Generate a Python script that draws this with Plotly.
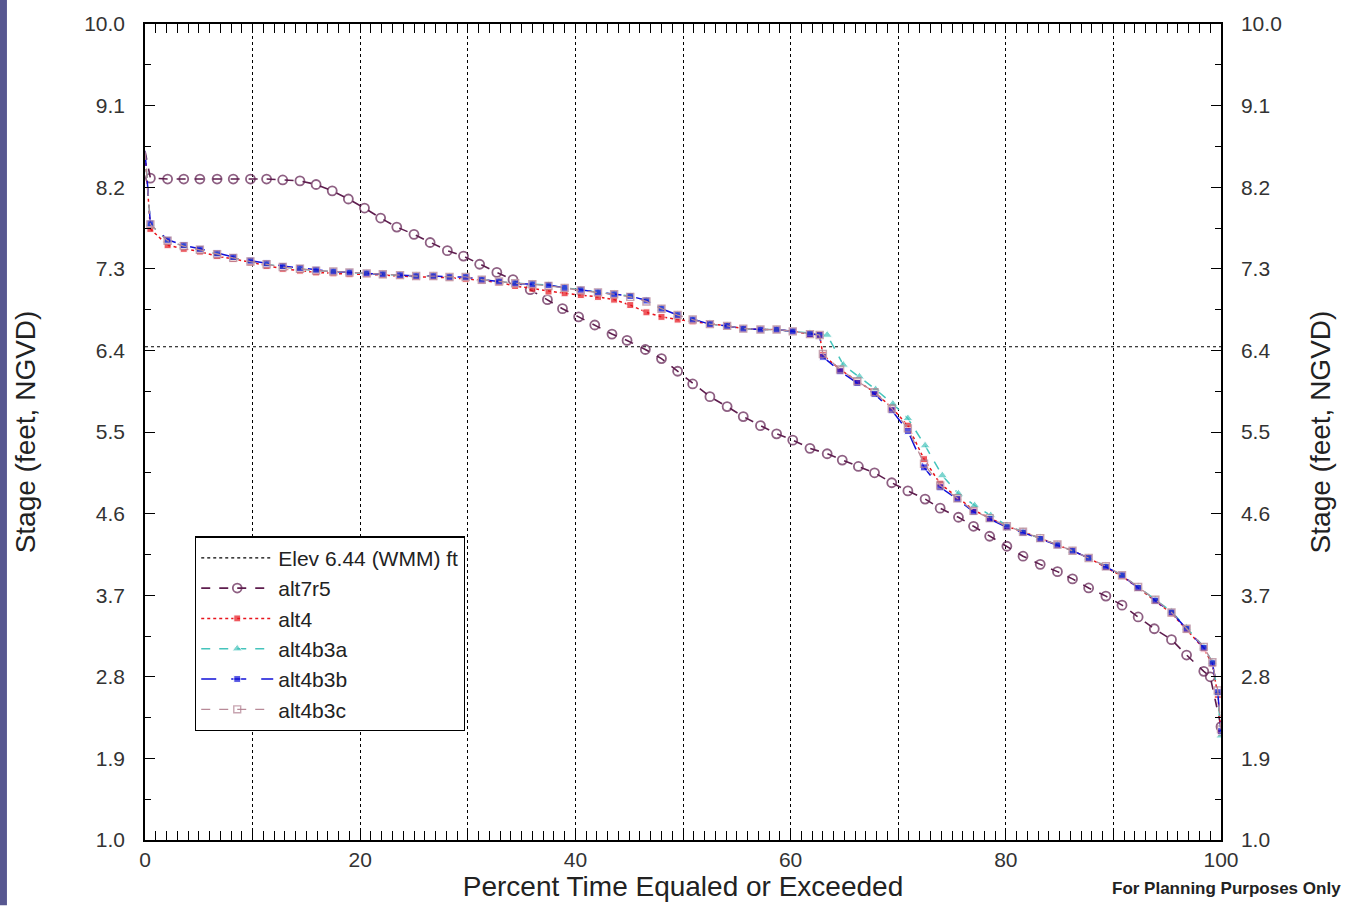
import plotly.graph_objects as go

# ---------------- data ----------------
X_MAIN = [0, 0.5, 2.1, 3.6, 5.1, 6.7, 8.2, 9.8, 11.3, 12.8,
          14.4, 15.9, 17.5, 19.0, 20.6, 22.1, 23.7, 25.2, 26.8, 28.3,
          29.8, 31.3, 32.9, 34.4, 36.0, 37.5, 39.0, 40.5, 42.1, 43.6,
          45.1, 46.6, 48.0, 49.5, 50.9, 52.5, 54.1, 55.6, 57.2, 58.7,
          60.2, 61.8, 62.7, 63.0, 64.6, 66.2, 67.8, 69.4, 70.9, 72.4,
          73.9, 75.5, 77.0, 78.5, 80.1, 81.6, 83.2, 84.8, 86.2, 87.7,
          89.3, 90.8, 92.3, 93.9, 95.4, 96.8, 98.4, 99.2, 99.7, 100]

ALT4 = [8.6, 7.74, 7.56, 7.52, 7.49, 7.44, 7.41, 7.37, 7.33, 7.30,
        7.28, 7.26, 7.25, 7.24, 7.24, 7.23, 7.22, 7.21, 7.21, 7.20,
        7.19, 7.17, 7.15, 7.11, 7.08, 7.05, 7.03, 7.01, 6.99, 6.96,
        6.90, 6.82, 6.77, 6.74, 6.72, 6.69, 6.67, 6.64, 6.63, 6.63,
        6.61, 6.58, 6.57, 6.35, 6.19, 6.06, 5.94, 5.77, 5.57, 5.20,
        4.93, 4.78, 4.64, 4.55, 4.46, 4.40, 4.33, 4.26, 4.19, 4.11,
        4.01, 3.91, 3.78, 3.64, 3.50, 3.32, 3.11, 2.94, 2.60, 2.18]

ALT4B3B = [8.6, 7.80, 7.62, 7.56, 7.52, 7.47, 7.43, 7.39, 7.36, 7.33,
           7.31, 7.29, 7.27, 7.26, 7.25, 7.24, 7.23, 7.22, 7.22, 7.21,
           7.21, 7.18, 7.16, 7.14, 7.13, 7.12, 7.09, 7.07, 7.04, 7.02,
           7.00, 6.95, 6.86, 6.79, 6.74, 6.69, 6.67, 6.64, 6.63, 6.63,
           6.61, 6.58, 6.57, 6.33, 6.17, 6.04, 5.92, 5.74, 5.51, 5.11,
           4.89, 4.76, 4.62, 4.54, 4.45, 4.39, 4.32, 4.25, 4.19, 4.11,
           4.01, 3.92, 3.78, 3.64, 3.51, 3.33, 3.12, 2.95, 2.63, 2.20]

ALT4B3C = [8.6, 7.79, 7.61, 7.55, 7.51, 7.46, 7.42, 7.38, 7.35, 7.32,
           7.30, 7.28, 7.27, 7.26, 7.25, 7.24, 7.23, 7.22, 7.22, 7.21,
           7.21, 7.18, 7.16, 7.14, 7.13, 7.11, 7.09, 7.06, 7.04, 7.02,
           6.99, 6.94, 6.86, 6.79, 6.74, 6.69, 6.67, 6.64, 6.63, 6.63,
           6.61, 6.58, 6.57, 6.36, 6.19, 6.06, 5.94, 5.76, 5.54, 5.15,
           4.91, 4.77, 4.63, 4.55, 4.46, 4.40, 4.33, 4.26, 4.19, 4.11,
           4.02, 3.92, 3.79, 3.65, 3.51, 3.33, 3.13, 2.96, 2.65, 2.22]

X_B3A = [0, 0.5, 2.1, 3.6, 5.1, 6.7, 8.2, 9.8, 11.3, 12.8,
         14.4, 15.9, 17.5, 19.0, 20.6, 22.1, 23.7, 25.2, 26.8, 28.3,
         29.8, 31.3, 32.9, 34.4, 36.0, 37.5, 39.0, 40.5, 42.1, 43.6,
         45.1, 46.6, 48.0, 49.5, 50.9, 52.5, 54.1, 55.6, 57.2, 58.7,
         60.2, 61.8, 63.4, 64.9, 66.4, 67.9, 69.5, 70.9, 72.5, 74.1,
         75.6, 77.1, 78.6, 80.1, 81.6, 83.2, 84.8, 86.2, 87.7, 89.3,
         90.8, 92.3, 93.9, 95.4, 96.8, 98.4, 99.2, 99.7, 100]

ALT4B3A = [8.6, 7.79, 7.61, 7.55, 7.51, 7.46, 7.42, 7.38, 7.35, 7.32,
           7.30, 7.28, 7.27, 7.26, 7.25, 7.24, 7.23, 7.22, 7.22, 7.21,
           7.21, 7.18, 7.16, 7.14, 7.13, 7.12, 7.09, 7.07, 7.04, 7.02,
           7.00, 6.95, 6.86, 6.79, 6.74, 6.69, 6.67, 6.64, 6.63, 6.63,
           6.61, 6.59, 6.57, 6.24, 6.11, 5.97, 5.81, 5.65, 5.35, 5.02,
           4.82, 4.69, 4.58, 4.47, 4.40, 4.33, 4.26, 4.19, 4.11, 4.02,
           3.92, 3.79, 3.65, 3.52, 3.34, 3.13, 2.96, 2.62, 2.15]

X_ALT7R5 = [0, 0.5, 2.1, 3.6, 5.1, 6.7, 8.2, 9.8, 11.3, 12.8,
            14.4, 15.9, 17.4, 18.9, 20.4, 21.9, 23.4, 25.0, 26.5, 28.1,
            29.6, 31.1, 32.7, 34.2, 35.8, 37.4, 38.8, 40.3, 41.8, 43.4,
            44.8, 46.5, 48.0, 49.5, 50.9, 52.5, 54.1, 55.6, 57.2, 58.7,
            60.2, 61.8, 63.4, 64.8, 66.3, 67.8, 69.4, 70.9, 72.5, 73.9,
            75.6, 77.0, 78.5, 80.1, 81.6, 83.2, 84.8, 86.2, 87.7, 89.3,
            90.8, 92.3, 93.8, 95.4, 96.8, 98.4, 99.0, 100]

ALT7R5 = [8.6, 8.30, 8.29, 8.29, 8.29, 8.29, 8.29, 8.29, 8.29, 8.28,
          8.27, 8.23, 8.16, 8.07, 7.97, 7.86, 7.76, 7.68, 7.59, 7.50,
          7.44, 7.35, 7.26, 7.18, 7.07, 6.96, 6.86, 6.77, 6.68, 6.58,
          6.51, 6.41, 6.31, 6.17, 6.03, 5.89, 5.78, 5.67, 5.57, 5.48,
          5.41, 5.32, 5.26, 5.19, 5.12, 5.05, 4.94, 4.85, 4.76, 4.66,
          4.56, 4.46, 4.35, 4.24, 4.13, 4.04, 3.96, 3.88, 3.78, 3.69,
          3.59, 3.46, 3.33, 3.21, 3.04, 2.86, 2.80, 2.25]

ELEV_X = [0, 100]
ELEV_Y = [6.44, 6.44]

Y_TICKS = [1.0, 1.9, 2.8, 3.7, 4.6, 5.5, 6.4, 7.3, 8.2, 9.1, 10.0]
Y_LABELS = ["1.0", "1.9", "2.8", "3.7", "4.6", "5.5", "6.4", "7.3", "8.2", "9.1", "10.0"]
X_TICKS = [0, 10, 20, 30, 40, 50, 60, 70, 80, 90, 100]
X_LABELS = ["0", "", "20", "", "40", "", "60", "", "80", "", "100"]

# ---------------- figure ----------------
FONT = "Liberation Sans, Arial, sans-serif"


def sizes(n, s):
    # no marker on the very first (x=0) point, as in the reference
    return [0] + [s] * (n - 1)


fig = go.Figure()

fig.add_trace(go.Scatter(
    x=ELEV_X, y=ELEV_Y, mode="lines", name="Elev 6.44 (WMM) ft",
    line=dict(color="black", width=1.2, dash="dot")))

fig.add_trace(go.Scatter(
    x=X_ALT7R5, y=ALT7R5, mode="lines+markers", name="alt7r5",
    line=dict(color="#5e1d4e", width=1.6, dash="dash"),
    marker=dict(symbol="circle-open", size=sizes(len(ALT7R5), 9),
                color="#5e1d4e", line=dict(width=1.8))))

fig.add_trace(go.Scatter(
    x=X_MAIN, y=ALT4, mode="lines+markers", name="alt4",
    line=dict(color="#e8141c", width=1.5, dash="dot"),
    marker=dict(symbol="square", size=sizes(len(ALT4), 7), color="#e8141c")))

fig.add_trace(go.Scatter(
    x=X_B3A, y=ALT4B3A, mode="lines+markers", name="alt4b3a",
    line=dict(color="#45c4bc", width=1.5, dash="dash"),
    marker=dict(symbol="triangle-up", size=sizes(len(ALT4B3A), 9), color="#45c4bc")))

fig.add_trace(go.Scatter(
    x=X_MAIN, y=ALT4B3B, mode="lines+markers", name="alt4b3b",
    line=dict(color="#1010d8", width=1.5, dash="longdash"),
    marker=dict(symbol="square", size=sizes(len(ALT4B3B), 7), color="#1010d8")))

fig.add_trace(go.Scatter(
    x=X_MAIN, y=ALT4B3C, mode="lines+markers", name="alt4b3c",
    line=dict(color="#b88a98", width=1.3, dash="dash"),
    marker=dict(symbol="square-open", size=sizes(len(ALT4B3C), 7),
                color="#b07f90", line=dict(width=1.4))))

# invisible trace to carry the right-hand axis
fig.add_trace(go.Scatter(
    x=ELEV_X, y=ELEV_Y, yaxis="y2", mode="lines",
    line=dict(width=0, color="rgba(0,0,0,0)"), showlegend=False, hoverinfo="skip"))

tickfont = dict(family=FONT, size=21, color="#333333")
titlefont = dict(family=FONT, size=28, color="#222222")

fig.update_layout(
    width=1345, height=907,
    margin=dict(l=145, r=124, t=20, b=65),
    paper_bgcolor="white", plot_bgcolor="white",
    font=dict(family=FONT),
    xaxis=dict(
        range=[0, 100], tickmode="array", tickvals=X_TICKS, ticktext=X_LABELS,
        ticks="inside", ticklen=9, tickwidth=1, tickcolor="black",
        showline=True, linecolor="black", linewidth=1.5, mirror="allticks",
        showgrid=True, gridcolor="black", gridwidth=1, griddash="3px,3px",
        zeroline=False, tickfont=tickfont,
        minor=dict(dtick=1, tick0=0, ticks="inside", ticklen=6,
                   tickcolor="black", showgrid=False),
        title=dict(text="Percent Time Equaled or Exceeded", font=titlefont, standoff=4),
    ),
    yaxis=dict(
        range=[1, 10], tickmode="array", tickvals=Y_TICKS, ticktext=Y_LABELS,
        ticks="inside", ticklen=10, tickwidth=1, tickcolor="black",
        showline=True, linecolor="black", linewidth=1.5, mirror=True,
        showgrid=False, zeroline=False, tickfont=tickfont, ticklabelstandoff=14,
        minor=dict(tick0=1, dtick=0.45, ticks="inside", ticklen=6,
                   tickcolor="black", showgrid=False),
        title=dict(text="Stage (feet, NGVD)", font=titlefont, standoff=40),
    ),
    yaxis2=dict(
        range=[1, 10], overlaying="y", side="right", tickmode="array",
        tickvals=Y_TICKS, ticktext=Y_LABELS,
        ticks="inside", ticklen=10, tickwidth=1, tickcolor="black",
        showline=True, linecolor="black", linewidth=1.5,
        showgrid=False, zeroline=False, tickfont=tickfont, ticklabelstandoff=14,
        minor=dict(tick0=1, dtick=0.45, ticks="inside", ticklen=6,
                   tickcolor="black", showgrid=False),
        title=dict(text="Stage (feet, NGVD)", font=titlefont, standoff=30),
    ),
    legend=dict(
        x=0.0465, y=0.372, xanchor="left", yanchor="top",
        bgcolor="white", bordercolor="black", borderwidth=1.2,
        font=dict(family=FONT, size=21, color="#222222"),
        itemwidth=72, tracegroupgap=0, entrywidth=205,
    ),
    showlegend=True,
)

# slide-background strip at the far left edge
fig.add_shape(type="rect", xref="paper", yref="paper",
              x0=-0.1348, x1=-0.1283, y0=-0.08, y1=1.03,
              fillcolor="#575790", line=dict(width=0), layer="below")

fig.add_annotation(
    text="<b>For Planning Purposes Only</b>", xref="paper", yref="paper",
    x=1.0047, y=-0.0596, xanchor="center", yanchor="middle", showarrow=False,
    font=dict(family=FONT, size=17, color="#222222"))

fig.write_html("out.html")
